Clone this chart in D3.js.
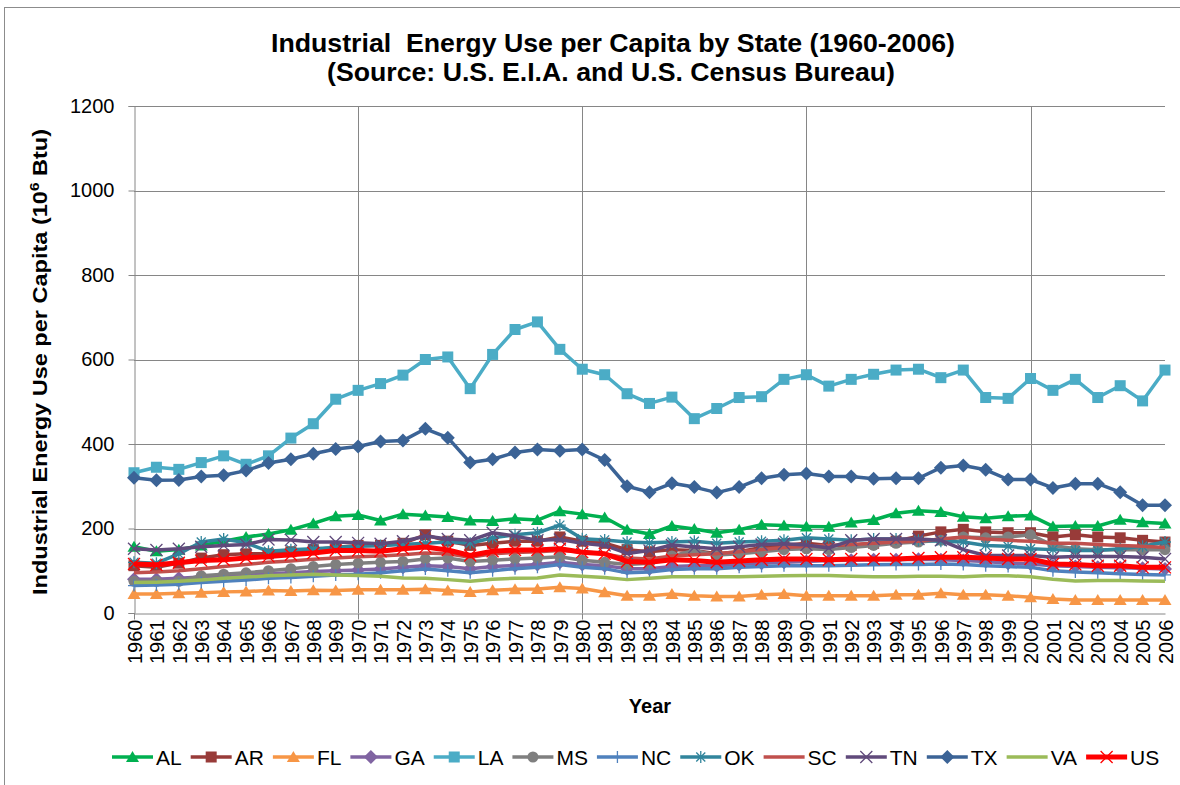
<!DOCTYPE html>
<html lang="en">
<head>
<meta charset="utf-8">
<title>Industrial Energy Use per Capita by State</title>
<script src="https://d3js.org/d3.v7.min.js"></script>
<style>
  body { margin: 0; background: #fff; }
  text { font-family: "Liberation Sans", Arial, sans-serif; fill: #000; }
</style>
</head>
<body>
<div id="chart"></div>
<script>

// DATA (10^6 Btu per capita)
var years = [1960,1961,1962,1963,1964,1965,1966,1967,1968,1969,
             1970,1971,1972,1973,1974,1975,1976,1977,1978,1979,
             1980,1981,1982,1983,1984,1985,1986,1987,1988,1989,
             1990,1991,1992,1993,1994,1995,1996,1997,1998,1999,
             2000,2001,2002,2003,2004,2005,2006];
var yTicks = [0, 200, 400, 600, 800, 1000, 1200];
var xTickYears = [1960, 1970, 1980, 1990, 2000];

var AL = [157,146,150,160,170,180,187,197,212,229, 232,219,234,231,227,219,218,223,220,241,
          234,226,197,187,206,199,190,197,209,207, 205,204,214,220,236,242,239,228,224,229,
          231,205,206,206,221,215,212];
var AR = [112,108,118,130,138,140,140,145,150,155, 160,160,165,185,170,160,165,170,170,180,
          170,165,150,145,150,148,140,145,155,160, 165,160,160,165,170,182,192,198,192,190,
          190,180,185,180,178,172,168];
var FL = [45,45,47,48,50,51,53,52,54,53, 55,55,55,56,53,50,54,56,57,61,
          58,49,41,41,45,41,39,39,43,45, 41,41,41,41,43,43,47,43,43,41,
          37,33,31,31,31,31,31];
var GA = [80,80,82,85,88,90,93,95,98,100, 102,104,108,112,110,105,110,112,115,120,
          115,112,105,105,110,112,112,115,118,120, 122,124,125,126,126,127,126,124,122,118,
          116,112,110,108,107,106,104];
var LA = [332,345,340,356,372,352,372,414,448,506, 527,543,563,600,606,531,612,671,689,624,
          577,564,519,496,511,460,484,510,512,553, 564,537,553,565,575,577,557,575,510,508,
          555,527,553,510,538,502,575];
var MS = [75,75,75,88,92,95,100,105,110,115, 118,120,122,128,130,122,125,128,130,133,
          125,120,115,118,135,148,137,140,145,150, 152,150,155,160,165,168,172,180,178,180,
          185,160,152,150,150,150,150];
var NC = [65,66,68,72,75,78,82,84,87,90, 92,95,100,104,100,95,100,105,108,115,
          108,105,95,97,103,105,105,108,110,112, 112,112,113,114,115,115,116,115,112,110,
          108,100,97,95,93,91,90];
var OK = [120,118,140,168,175,166,146,150,152,155, 158,160,162,165,168,165,178,185,190,208,
          176,173,168,166,168,170,165,168,170,172, 178,175,172,175,175,172,170,168,160,158,
          152,150,148,148,152,158,168];
var SC = [95,97,100,105,110,115,120,123,127,130, 133,135,138,142,140,132,140,143,145,148,
          145,140,130,128,135,138,140,145,150,155, 158,160,162,165,168,170,175,180,175,172,
          170,165,165,162,160,158,155];
var TN = [152,149,152,157,160,162,174,173,168,168, 166,164,170,182,175,172,190,182,172,174,
          165,160,141,148,161,156,152,157,162,164, 161,154,172,175,175,175,172,150,136,136,
          136,132,134,134,134,132,128];
var TX = [320,314,315,323,326,337,355,364,377,388, 394,406,408,436,415,356,364,380,387,384,
          387,362,300,286,307,298,285,298,319,327, 330,323,323,318,319,319,344,349,339,316,
          316,296,306,306,286,255,255];
var VA = [72,73,75,78,82,85,88,90,92,90, 89,87,83,82,79,75,80,82,83,90,
          87,84,79,82,86,86,86,86,87,88, 89,89,87,86,86,87,87,86,88,88,
          86,80,76,77,77,76,75];
var US = [116,114,119,124,126,130,134,138,142,148, 148,146,152,156,149,136,146,149,149,152,
          144,140,122,120,126,124,120,123,126,128, 128,126,128,128,128,130,132,132,130,128,
          128,116,115,112,112,108,108];

// series styles (drawing order = Excel series order)
var series = [
  {name: "AL", values: AL, color: "#00B050", marker: "triangle"},
  {name: "AR", values: AR, color: "#983B39", marker: "square"},
  {name: "FL", values: FL, color: "#F79646", marker: "triangle"},
  {name: "GA", values: GA, color: "#8064A2", marker: "diamond"},
  {name: "LA", values: LA, color: "#4BACC6", marker: "square"},
  {name: "MS", values: MS, color: "#7F7F7F", marker: "circle"},
  {name: "NC", values: NC, color: "#4F81BD", marker: "plus"},
  {name: "OK", values: OK, color: "#31859C", marker: "star"},
  {name: "SC", values: SC, color: "#C0504D", marker: "none"},
  {name: "TN", values: TN, color: "#604A7B", marker: "x"},
  {name: "TX", values: TX, color: "#3B6396", marker: "diamond"},
  {name: "VA", values: VA, color: "#9BBB59", marker: "none"},
  {name: "US", values: US, color: "#FF0000", marker: "x", width: 5}
];

var w = 1180, h = 785;
var svg = d3.select("#chart").append("svg")
  .attr("width", w).attr("height", h);

// chart border
svg.append("rect")
  .attr("x", 4.5).attr("y", 7.5).attr("width", 1300).attr("height", 900)
  .attr("fill", "none").attr("stroke", "#8c8c8c");

var x = d3.scalePoint().domain(years).range([134, 1165]);
var y = d3.scaleLinear().domain([0, 1200]).range([613, 106]);

// GRID
var grid = svg.append("g").attr("id", "grid");
grid.selectAll(".hgrid")
  .data(yTicks.slice(1))
  .enter().append("line")
  .attr("x1", 134).attr("x2", 1165)
  .attr("y1", function(d) { return Math.round(y(d)) + 0.5; })
  .attr("y2", function(d) { return Math.round(y(d)) + 0.5; })
  .attr("stroke", "#868686").attr("stroke-width", 1);
grid.selectAll(".vgrid")
  .data(xTickYears.slice(1))
  .enter().append("line")
  .attr("x1", function(d) { return Math.round(x(d)) + 0.5; })
  .attr("x2", function(d) { return Math.round(x(d)) + 0.5; })
  .attr("y1", 106).attr("y2", 613)
  .attr("stroke", "#868686").attr("stroke-width", 1);

// AXES
var yAxis = d3.axisLeft(y).tickValues(yTicks).tickFormat(d3.format("d"))
  .tickSize(6).tickPadding(14);
var gy = svg.append("g").attr("transform", "translate(134.5,0)").call(yAxis);
gy.select(".domain").attr("stroke", "#868686");
gy.selectAll(".tick line").attr("stroke", "#868686");
gy.selectAll(".tick text").style("font-size", "20px").attr("fill", "#000")
  .style("font-family", "'Liberation Sans', Arial, sans-serif");

var xAxis = d3.axisBottom(x).tickValues(years).tickSize(0).tickPadding(0);
var gx = svg.append("g").attr("transform", "translate(0,613.5)").call(xAxis);
gx.select(".domain").attr("stroke", "#868686");
gx.selectAll(".tick text")
  .attr("transform", "rotate(-90)")
  .attr("text-anchor", "end")
  .attr("x", -6).attr("y", 0).attr("dy", "0.36em")
  .style("font-size", "20px").attr("fill", "#000")
  .style("font-family", "'Liberation Sans', Arial, sans-serif");
gx.selectAll(".xt")
  .data(xTickYears)
  .enter().append("line")
  .attr("x1", function(d) { return Math.round(x(d)) + 0.5; })
  .attr("x2", function(d) { return Math.round(x(d)) + 0.5; })
  .attr("y1", 0).attr("y2", 6)
  .attr("stroke", "#868686");

// MARKERS
function marker(g, type, color) {
  if (type == "triangle") {
    g.append("path").attr("d", "M0,-6L6.5,5L-6.5,5Z").attr("fill", color);
  } else if (type == "square") {
    g.append("rect").attr("x", -5.5).attr("y", -5.5)
      .attr("width", 11).attr("height", 11).attr("fill", color);
  } else if (type == "diamond") {
    g.append("path").attr("d", "M0,-7L7,0L0,7L-7,0Z").attr("fill", color);
  } else if (type == "circle") {
    g.append("circle").attr("r", 5.5).attr("fill", color);
  } else if (type == "plus") {
    g.append("path").attr("d", "M-6,0H6M0,-6V6").attr("stroke", color)
      .attr("stroke-width", 1.3).attr("fill", "none");
  } else if (type == "star") {
    g.append("path").attr("d", "M-6,0H6M0,-6V6M-4.5,-4.5L4.5,4.5M-4.5,4.5L4.5,-4.5")
      .attr("stroke", color).attr("stroke-width", 1.3).attr("fill", "none");
  } else if (type == "x") {
    g.append("path").attr("d", "M-6,-6L6,6M-6,6L6,-6").attr("stroke", color)
      .attr("stroke-width", 1.3).attr("fill", "none");
  }
}

// LINES
var line = d3.line()
  .x(function(d, i) { return x(years[i]); })
  .y(function(d) { return y(d); });

var plot = svg.append("g").attr("id", "plot");
series.forEach(function(s) {
  var g = plot.append("g").attr("class", "series " + s.name);
  g.append("path")
    .datum(s.values)
    .attr("d", line)
    .attr("fill", "none")
    .attr("stroke", s.color)
    .attr("stroke-width", s.width || 3.5)
    .attr("stroke-linejoin", "round");
  if (s.marker != "none") {
    g.selectAll(".m")
      .data(s.values)
      .enter().append("g")
      .attr("transform", function(d, i) { return "translate(" + x(years[i]) + "," + y(d) + ")"; })
      .each(function() { marker(d3.select(this), s.marker, s.color); });
  }
});

// TITLES
svg.append("text").text("Industrial  Energy Use per Capita by State (1960-2006)")
  .attr("x", 613).attr("y", 52).attr("text-anchor", "middle")
  .attr("textLength", 684).attr("lengthAdjust", "spacingAndGlyphs")
  .style("font-size", "25px").style("font-weight", "bold").style("white-space", "pre");
svg.append("text").text("(Source: U.S. E.I.A. and U.S. Census Bureau)")
  .attr("x", 611).attr("y", 80.5).attr("text-anchor", "middle")
  .attr("textLength", 568).attr("lengthAdjust", "spacingAndGlyphs")
  .style("font-size", "25px").style("font-weight", "bold");

var ytitle = svg.append("text")
  .attr("transform", "translate(47,362) rotate(-90)")
  .attr("text-anchor", "middle")
  .attr("textLength", 466).attr("lengthAdjust", "spacingAndGlyphs")
  .style("font-size", "20px").style("font-weight", "bold");
ytitle.append("tspan").text("Industrial Energy Use per Capita (10");
ytitle.append("tspan").text("6").attr("dy", -8).style("font-size", "13px");
ytitle.append("tspan").text(" Btu)").attr("dy", 8);

svg.append("text").text("Year")
  .attr("x", 650).attr("y", 713).attr("text-anchor", "middle")
  .style("font-size", "20px").style("font-weight", "bold");

// LEGEND
var legend = svg.append("g").attr("id", "legend");
var lx = 112, ly = 757;
series.forEach(function(s) {
  var item = legend.append("g").attr("transform", "translate(" + lx + "," + ly + ")");
  item.append("line").attr("x1", 0).attr("x2", 41).attr("y1", 0).attr("y2", 0)
    .attr("stroke", s.color).attr("stroke-width", s.width || 3.5);
  if (s.marker != "none") {
    var mg = item.append("g").attr("transform", "translate(20.5,0)");
    marker(mg, s.marker, s.color);
  }
  var t = item.append("text").text(s.name).attr("x", 44).attr("y", 7.5)
    .style("font-size", "21px");
  lx += 44 + t.node().getComputedTextLength() + 9;
});

</script>
</body>
</html>
